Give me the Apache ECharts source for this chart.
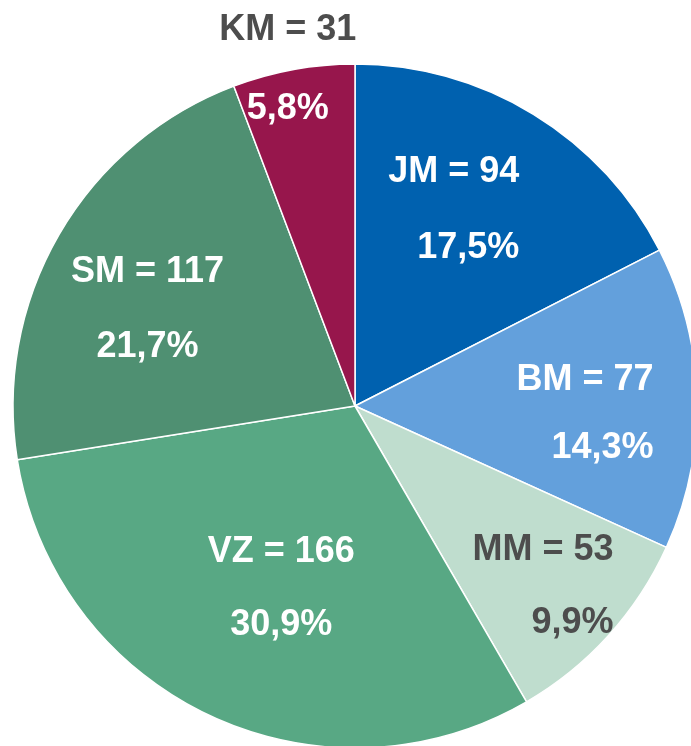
<!DOCTYPE html>
<html>
<head>
<meta charset="utf-8">
<script src="https://cdn.jsdelivr.net/npm/echarts@6/dist/echarts.min.js"></script>
<style>
  html, body { margin: 0; padding: 0; background: #fff; }
  #chart { width: 691px; height: 746px; }
</style>
</head>
<body>
<div id="chart"></div>
<script>
// Kategorien und Werte
const names = ['JM', 'BM', 'MM', 'VZ', 'SM', 'KM']
const values = [94, 77, 53, 166, 117, 31]
const percents = ['17,5%', '14,3%', '9,9%', '30,9%', '21,7%', '5,8%']

const colors = ['#0061af', '#63a0dc', '#bfddce', '#58a884', '#4f9072', '#97164c']
// Label-Verschiebung relativ zur Standardposition "inside"
const offsets = [[8, -47], [56, 12], [59, 64], [1, 25], [-57, -9], [-36, -165]]
const aligns = ['right', 'right', 'right', 'center', 'center', 'center']
const lineHeights = [76, 68, 73, 73, 75, 79]
const darkText = '#4d4d4d'

const chart = echarts.init(document.getElementById('chart'))

const data = names.map((n, i) => {
  let fmt = '{a|' + n + ' = ' + values[i] + '}\n{b|' + percents[i] + '}'
  let base = { color: '#fff', fontSize: 36, fontWeight: 'bold', fontFamily: 'Liberation Sans', lineHeight: lineHeights[i], align: aligns[i] }
  let rich = { a: Object.assign({}, base), b: Object.assign({}, base) }
  if (n === 'MM') {
    rich.a.color = darkText
    rich.b.color = darkText
  }
  if (n === 'KM') {
    rich.a.color = darkText
  }
  return {
    name: n,
    value: values[i],
    itemStyle: { color: colors[i] },
    label: { formatter: fmt, rich: rich, offset: offsets[i] }
  }
})

chart.setOption({
  animation: false,
  series: [{
    type: 'pie',
    center: [355, 406],
    radius: [0, 342],
    startAngle: 90,
    clockwise: true,
    avoidLabelOverlap: false,
    itemStyle: { borderColor: '#fff', borderWidth: 1.5 },
    label: { show: true, position: 'inside' },
    labelLine: { show: false },
    emphasis: { disabled: true },
    data: data
  }]
})
</script>
</body>
</html>
